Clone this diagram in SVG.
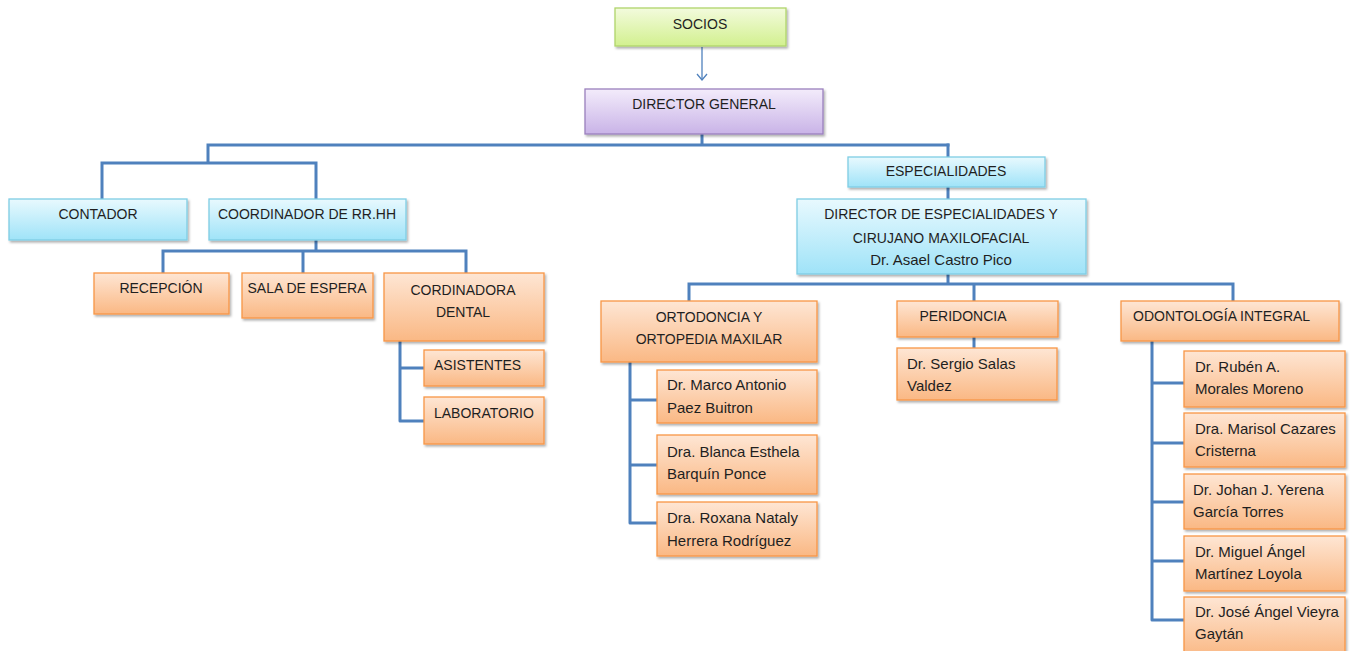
<svg xmlns="http://www.w3.org/2000/svg" width="1350" height="651" viewBox="0 0 1350 651">
  <defs>
    <linearGradient id="gOrange" x1="0" y1="0" x2="0" y2="1">
      <stop offset="0" stop-color="#fee6d4"/>
      <stop offset="1" stop-color="#fab884"/>
    </linearGradient>
    <linearGradient id="gBlue" x1="0" y1="0" x2="0" y2="1">
      <stop offset="0" stop-color="#e8f9fe"/>
      <stop offset="1" stop-color="#9fe3f8"/>
    </linearGradient>
    <linearGradient id="gGreen" x1="0" y1="0" x2="0" y2="1">
      <stop offset="0" stop-color="#f3fbdd"/>
      <stop offset="1" stop-color="#d2f08f"/>
    </linearGradient>
    <linearGradient id="gPurple" x1="0" y1="0" x2="0" y2="1">
      <stop offset="0" stop-color="#f3ecfb"/>
      <stop offset="1" stop-color="#c9b3e7"/>
    </linearGradient>
    <filter id="shadow" x="-10%" y="-20%" width="120%" height="150%">
      <feDropShadow dx="1.5" dy="2" stdDeviation="1.2" flood-color="#000" flood-opacity="0.3"/>
    </filter>
    <marker id="openArrow" viewBox="0 0 12 12" refX="11" refY="6" markerWidth="12" markerHeight="12" markerUnits="userSpaceOnUse" orient="auto">
      <path d="M5,1 L11,6 L5,11" fill="none" stroke="#4f81bd" stroke-width="1.3"/>
    </marker>
  </defs>
  <style>
    .orange { fill: url(#gOrange); stroke: #f79646; stroke-width: 1.3; filter: url(#shadow); }
    .blue { fill: url(#gBlue); stroke: #7fcde4; stroke-width: 1.3; filter: url(#shadow); }
    .green { fill: url(#gGreen); stroke: #b0d46a; stroke-width: 1.3; filter: url(#shadow); }
    .purple { fill: url(#gPurple); stroke: #9a80bd; stroke-width: 1.3; filter: url(#shadow); }
    text { font-family: "Liberation Sans", Arial, sans-serif; fill: #1f1f1f; }
    .up { font-size: 14px; }
    .nm { font-size: 15px; }
    .c { text-anchor: middle; }
    .link { fill: none; stroke: #4f81bd; stroke-width: 3; stroke-linejoin: round; stroke-linecap: square; }
  </style>

  <!-- connectors -->
  <g id="connectors">
    <line x1="702" y1="47" x2="702" y2="80" stroke="#4f81bd" stroke-width="1.3" marker-end="url(#openArrow)"/>
    <path class="link" d="M702,135 V145 M208,145 H948 M208,145 V163 M102,163 H316 M102,163 V199 M316,163 V199"/>
    <path class="link" d="M316,241 V251 M163,251 H466 M163,251 V273 M303,251 V273 M466,251 V273"/>
    <path class="link" d="M400,342 V421 H424 M400,368 H424"/>
    <path class="link" d="M948,145 V157 M948,188 V199 M948,275 V284 M689,284 H1233 M689,284 V301 M974,284 V301 M1233,284 V301"/>
    <path class="link" d="M974,338 V350"/>
    <path class="link" d="M630,363 V523 H657 M630,400 H657 M630,465 H657"/>
    <path class="link" d="M1152,342 V620 H1184 M1152,383 H1184 M1152,443 H1184 M1152,502 H1184 M1152,561 H1184"/>
  </g>

  <!-- top level -->
  <g id="socios">
    <rect class="green" x="615" y="8" width="171" height="38"/>
    <text class="up c" x="700" y="29">SOCIOS</text>
  </g>
  <g id="director-general">
    <rect class="purple" x="585" y="89" width="238" height="45"/>
    <text class="up c" x="704" y="109">DIRECTOR GENERAL</text>
  </g>

  <!-- administrative branch -->
  <g id="contador">
    <rect class="blue" x="9" y="199" width="178" height="41"/>
    <text class="up c" x="98" y="219">CONTADOR</text>
  </g>
  <g id="coordinador-rrhh">
    <rect class="blue" x="209" y="199" width="197" height="41"/>
    <text class="up c" x="307" y="219">COORDINADOR DE RR.HH</text>
  </g>
  <g id="recepcion">
    <rect class="orange" x="94" y="273" width="135" height="41"/>
    <text class="up c" x="161" y="293">RECEPCIÓN</text>
  </g>
  <g id="sala-espera">
    <rect class="orange" x="242" y="273" width="131" height="45"/>
    <text class="up c" x="307" y="293">SALA DE ESPERA</text>
  </g>
  <g id="cordinadora-dental">
    <rect class="orange" x="384" y="273" width="160" height="68"/>
    <text class="up c" x="463" y="295">CORDINADORA</text>
    <text class="up c" x="463" y="317">DENTAL</text>
  </g>
  <g id="asistentes">
    <rect class="orange" x="424" y="350" width="120" height="36"/>
    <text class="up" x="434" y="370">ASISTENTES</text>
  </g>
  <g id="laboratorio">
    <rect class="orange" x="424" y="397" width="120" height="47"/>
    <text class="up" x="434" y="418">LABORATORIO</text>
  </g>

  <!-- specialties branch -->
  <g id="especialidades">
    <rect class="blue" x="848" y="157" width="197" height="30"/>
    <text class="up c" x="946" y="176">ESPECIALIDADES</text>
  </g>
  <g id="director-especialidades">
    <rect class="blue" x="797" y="199" width="289" height="75"/>
    <text class="up c" x="941" y="219">DIRECTOR DE ESPECIALIDADES Y</text>
    <text class="up c" x="941" y="243">CIRUJANO MAXILOFACIAL</text>
    <text class="nm c" x="941" y="265">Dr. Asael Castro Pico</text>
  </g>
  <g id="ortodoncia">
    <rect class="orange" x="601" y="301" width="216" height="61"/>
    <text class="up c" x="709" y="322">ORTODONCIA Y</text>
    <text class="up c" x="709" y="344">ORTOPEDIA MAXILAR</text>
  </g>
  <g id="peridoncia">
    <rect class="orange" x="897" y="301" width="161" height="36"/>
    <text class="up c" x="963" y="321">PERIDONCIA</text>
  </g>
  <g id="odontologia-integral">
    <rect class="orange" x="1121" y="301" width="218" height="40"/>
    <text class="up" x="1133" y="321">ODONTOLOGÍA INTEGRAL</text>
  </g>

  <g id="dr-sergio-salas">
    <rect class="orange" x="897" y="348" width="160" height="52"/>
    <text class="nm" x="907" y="369">Dr. Sergio Salas</text>
    <text class="nm" x="907" y="391">Valdez</text>
  </g>

  <g id="dr-marco-paez">
    <rect class="orange" x="657" y="370" width="160" height="53"/>
    <text class="nm" x="667" y="390">Dr. Marco Antonio</text>
    <text class="nm" x="667" y="413">Paez Buitron</text>
  </g>
  <g id="dra-blanca-barquin">
    <rect class="orange" x="657" y="435" width="160" height="59"/>
    <text class="nm" x="667" y="457">Dra. Blanca Esthela</text>
    <text class="nm" x="667" y="479">Barquín Ponce</text>
  </g>
  <g id="dra-roxana-herrera">
    <rect class="orange" x="657" y="502" width="160" height="54"/>
    <text class="nm" x="667" y="523">Dra. Roxana Nataly</text>
    <text class="nm" x="667" y="546">Herrera Rodríguez</text>
  </g>

  <g id="dr-ruben-morales">
    <rect class="orange" x="1184" y="351" width="161" height="56"/>
    <text class="nm" x="1195" y="372">Dr. Rubén A.</text>
    <text class="nm" x="1195" y="394">Morales Moreno</text>
  </g>
  <g id="dra-marisol-cazares">
    <rect class="orange" x="1184" y="413" width="161" height="54"/>
    <text class="nm" x="1195" y="434">Dra. Marisol Cazares</text>
    <text class="nm" x="1195" y="456">Cristerna</text>
  </g>
  <g id="dr-johan-yerena">
    <rect class="orange" x="1184" y="474" width="161" height="55"/>
    <text class="nm" x="1193" y="495">Dr. Johan J. Yerena</text>
    <text class="nm" x="1193" y="517">García Torres</text>
  </g>
  <g id="dr-miguel-martinez">
    <rect class="orange" x="1184" y="536" width="161" height="55"/>
    <text class="nm" x="1195" y="557">Dr. Miguel Ángel</text>
    <text class="nm" x="1195" y="579">Martínez Loyola</text>
  </g>
  <g id="dr-jose-vieyra">
    <rect class="orange" x="1184" y="597" width="161" height="60"/>
    <text class="nm" x="1195" y="617">Dr. José Ángel Vieyra</text>
    <text class="nm" x="1195" y="639">Gaytán</text>
  </g>
</svg>
